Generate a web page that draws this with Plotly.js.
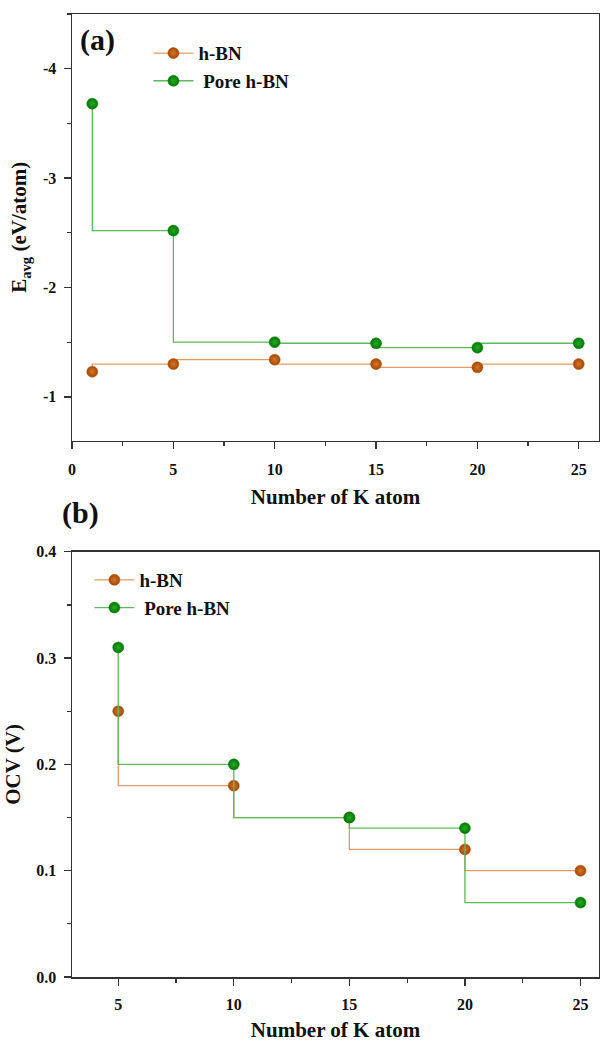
<!DOCTYPE html>
<html>
<head>
<meta charset="utf-8">
<script src="https://cdn.plot.ly/plotly-3.0.1.min.js"></script>
<style>html,body{margin:0;padding:0;background:#fff;}#chart{width:600px;height:1042px;}</style>
</head>
<body>
<div id="chart"></div>
<script>
// Panel (a): average adsorption energy
const kAtomsA = [1, 5, 10, 15, 20, 25];
const eavgHBN = [-1.23, -1.30, -1.34, -1.30, -1.27, -1.30];
const eavgPore = [-3.68, -2.52, -1.50, -1.49, -1.45, -1.49];
const eavgTickVals = [-4, -3, -2, -1];
const eavgTickText = ['-4', '-3', '-2', '-1'];
// Panel (b): open circuit voltage
const kAtomsB = [5, 10, 15, 20, 25];
const ocvHBN = [0.25, 0.18, 0.15, 0.12, 0.10];
const ocvPore = [0.31, 0.20, 0.15, 0.14, 0.07];
const seriesNames = ['h-BN', '\u00a0Pore h-BN'];
const panelLabels = ['(a)', '(b)'];

const serif = 'Liberation Serif';
const orangeM = '#a84700', orangeL = '#e39a6a', orangeG = '#d2782e';
const greenM = '#007a00', greenL = '#5cbb5c', greenG = '#2aa82a';

function tr(x, y, name, xa, ya, lg, mc, lc, gc) {
  return {
    x: x, y: y, name: name, xaxis: xa, yaxis: ya, legend: lg,
    type: 'scatter', mode: 'lines+markers', line: {shape: 'vh', color: lc, width: 1.3},
    marker: {size: 11, color: mc, gradient: {type: 'radial', color: gc}, line: {width: 0.5, color: mc}}
  };
}

const data = [
  tr(kAtomsA, eavgHBN, seriesNames[0], 'x', 'y', 'legend', orangeM, orangeL, orangeG),
  tr(kAtomsA, eavgPore, seriesNames[1], 'x', 'y', 'legend', greenM, greenL, greenG),
  tr(kAtomsB, ocvHBN, seriesNames[0], 'x2', 'y2', 'legend2', orangeM, orangeL, orangeG),
  tr(kAtomsB, ocvPore, seriesNames[1], 'x2', 'y2', 'legend2', greenM, greenL, greenG)
];

const tickFont = {family: serif, size: 16, color: '#111', weight: 'bold'};
const titleFont = {family: serif, size: 21, color: '#111', weight: 'bold'};
const axBase = {
  showgrid: false, zeroline: false, showline: true, linecolor: '#333', linewidth: 1.5,
  mirror: true, ticks: 'outside', ticklen: 7, tickwidth: 1.3, tickcolor: '#333',
  tickfont: tickFont
};

const legendFont = {family: serif, size: 19, color: '#111', weight: 'bold'};

const layout = {
  width: 600, height: 1042,
  margin: {l: 72, r: 1, t: 14, b: 65},
  paper_bgcolor: '#fff', plot_bgcolor: '#fff',
  showlegend: true,
  xaxis: Object.assign({}, axBase, {
    domain: [0, 1], anchor: 'y', range: [0, 26], tick0: 0, dtick: 5,
    minor: {dtick: 2.5, ticks: 'outside', ticklen: 4, tickcolor: '#333'},
    ticklabelstandoff: 7,
    title: {text: 'Number of K atom', font: titleFont, standoff: 12}
  }),
  yaxis: Object.assign({}, axBase, {
    domain: [0.557, 1], anchor: 'x', range: [-0.6, -4.5],
    tickmode: 'array', tickvals: eavgTickVals, ticktext: eavgTickText,
    minor: {dtick: 0.5, tick0: 0, ticks: 'outside', ticklen: 4, tickcolor: '#333'},
    ticklabelstandoff: 4,
    title: {text: 'E<sub>avg</sub> (eV/atom)', font: titleFont, standoff: 10}
  }),
  xaxis2: Object.assign({}, axBase, {
    domain: [0, 1], anchor: 'y2', range: [3, 25.8], tick0: 0, dtick: 5,
    minor: {dtick: 2.5, ticks: 'outside', ticklen: 4, tickcolor: '#333'},
    ticklabelstandoff: 5,
    title: {text: 'Number of K atom', font: titleFont, standoff: 10}
  }),
  yaxis2: Object.assign({}, axBase, {
    domain: [0, 0.4416], anchor: 'x2', range: [0, 0.4], tick0: 0, dtick: 0.1,
    tickformat: '.1f',
    minor: {dtick: 0.05, ticks: 'outside', ticklen: 4, tickcolor: '#333'},
    ticklabelstandoff: 4,
    title: {text: 'OCV (V)', font: titleFont, standoff: 10}
  }),
  legend: {
    x: 0.145, y: 0.979, xanchor: 'left', yanchor: 'top', bgcolor: 'rgba(0,0,0,0)',
    font: legendFont, itemwidth: 40
  },
  legend2: {
    x: 0.033, y: 0.432, xanchor: 'left', yanchor: 'top', bgcolor: 'rgba(0,0,0,0)',
    font: legendFont, itemwidth: 40
  },
  annotations: [
    {text: panelLabels[0], xref: 'paper', yref: 'paper', x: 0.049, y: 0.973, showarrow: false,
     xanchor: 'center', yanchor: 'middle', font: {family: serif, size: 30, color: '#111', weight: 'bold'}},
    {text: panelLabels[1], xref: 'paper', yref: 'paper', x: 0.017, y: 0.482, showarrow: false,
     xanchor: 'center', yanchor: 'middle', font: {family: serif, size: 30, color: '#111', weight: 'bold'}}
  ]
};

Plotly.newPlot('chart', data, layout, {displayModeBar: false, staticPlot: true});
</script>
</body>
</html>
